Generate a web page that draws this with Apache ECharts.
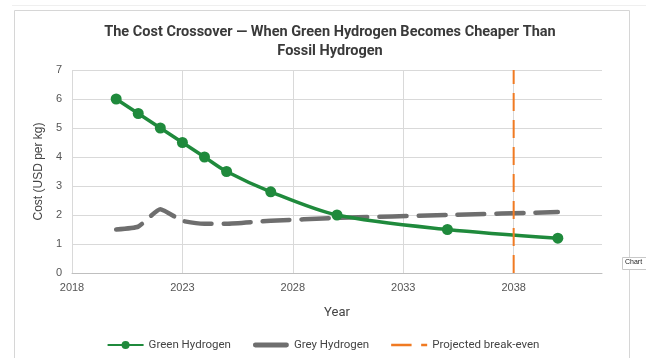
<html>
<head>
    <meta charset="utf-8">
    <title>ECharts</title>
    <script src="https://cdn.jsdelivr.net/npm/echarts@6/dist/echarts.min.js"></script>
    <style>
        body { margin: 0; background: #fff; }
    </style>
</head>
<body>
    <div id="main" style="width: 646px;height:358px;"></div>
    <script type="text/javascript">
        // data
        var greenYears = [2020, 2021, 2022, 2023, 2024, 2025, 2027, 2030, 2035, 2040];
        var greenCost  = [6.0, 5.5, 5.0, 4.5, 4.0, 3.5, 2.8, 2.0, 1.5, 1.2];
        var greyYears  = [2020, 2021, 2022, 2023, 2024, 2025, 2027, 2030, 2035, 2040];
        var greyCost   = [1.5, 1.6, 2.2, 1.8, 1.7, 1.7, 1.8, 1.9, 2.0, 2.1];
        var breakEvenYear = 2038;
        var breakEvenRange = [0, 7];

        function pairs(xs, ys) {
            var out = [];
            for (var i = 0; i < xs.length; i++) {
                out.push([xs[i], ys[i]]);
            }
            return out;
        }

        var labelFont = 'Liberation Sans, Arial, sans-serif';
        var titleFont = 'Roboto, sans-serif';

        var myChart = echarts.init(document.getElementById('main'));
        var option = {
            animation: false,
            title: {
                text: 'The Cost Crossover \u2014 When Green Hydrogen Becomes Cheaper Than\nFossil Hydrogen',
                left: 325,
                top: 18,
                textAlign: 'center',
                textStyle: {
                    fontFamily: titleFont,
                    fontSize: 14.5,
                    fontWeight: 'bold',
                    color: '#3a3a3a',
                    lineHeight: 19
                }
            },
            legend: {
                data: [
                    { name: 'Green Hydrogen' },
                    { name: 'Grey Hydrogen', icon: 'path://M2,0 H34 A2,2 0 0 1 34,5 H2 A2,2 0 0 1 2,0 Z' },
                    { name: 'Projected break-even', icon: 'path://M0,0 H17 V2 H0 Z M25,0 H30 V2 H25 Z' }
                ],
                left: 'center',
                top: 334,
                itemWidth: 36,
                itemHeight: 10,
                itemGap: 22,
                textStyle: { fontFamily: titleFont, fontSize: 11.5, color: '#444' }
            },
            grid: { left: 72, right: 44, top: 70, bottom: 85 },
            xAxis: {
                type: 'value',
                min: 2018,
                max: 2042,
                interval: 5,
                name: 'Year',
                nameLocation: 'middle',
                nameGap: 33,
                nameTextStyle: { fontFamily: titleFont, fontSize: 13, color: '#444' },
                axisLine: { show: true, lineStyle: { color: '#bfbfbf' } },
                axisTick: { show: false },
                axisLabel: {
                    showMaxLabel: false, fontFamily: labelFont, fontSize: 11, color: '#555', margin: 9,
                    formatter: function (v) { return String(v); }
                },
                splitLine: { show: true, showMaxLine: false, lineStyle: { color: '#d9d9d9' } }
            },
            yAxis: {
                type: 'value',
                min: 0,
                max: 7,
                interval: 1,
                name: 'Cost (USD per kg)',
                nameLocation: 'middle',
                nameGap: 24,
                nameTextStyle: { fontFamily: labelFont, fontSize: 12, color: '#444' },
                axisLine: { show: false },
                axisTick: { show: false },
                axisLabel: { fontFamily: labelFont, fontSize: 11, color: '#555', margin: 10 },
                splitLine: { lineStyle: { color: '#d9d9d9' } }
            },
            series: [
                {
                    name: 'Green Hydrogen',
                    type: 'line',
                    data: pairs(greenYears, greenCost),
                    smooth: 0.3,
                    symbol: 'circle',
                    symbolSize: 11,
                    itemStyle: { color: '#1f8a3c' },
                    lineStyle: { color: '#1f8a3c', width: 3.5 },
                    z: 3
                },
                {
                    name: 'Grey Hydrogen',
                    type: 'line',
                    data: pairs(greyYears, greyCost),
                    smooth: 0.15,
                    symbol: 'none',
                    itemStyle: { color: '#6e6e6e' },
                    lineStyle: { color: '#6e6e6e', width: 4.5, type: [27, 12], cap: 'round' },
                    z: 2
                },
                {
                    name: 'Projected break-even',
                    type: 'line',
                    data: [[breakEvenYear, breakEvenRange[0]], [breakEvenYear, breakEvenRange[1]]],
                    symbol: 'none',
                    itemStyle: { color: '#f07a22' },
                    lineStyle: { color: '#f07a22', width: 2, type: [18, 9] },
                    z: 4
                }
            ],
            graphic: [
                // outer chart frame
                { type: 'rect', shape: { x: 14.5, y: 10.5, width: 615, height: 360 },
                  style: { fill: null, stroke: '#d6d6d6', lineWidth: 1 }, silent: true },
                { type: 'line', shape: { x1: 12, y1: 5.5, x2: 646, y2: 5.5 },
                  style: { stroke: '#efefef', lineWidth: 1 }, silent: true },
                // little hover tag at right
                { type: 'rect', shape: { x: 622.5, y: 257.5, width: 30, height: 12 },
                  style: { fill: '#fff', stroke: '#c8c8c8', lineWidth: 1 }, silent: true },
                { type: 'text', x: 625, y: 259,
                  style: { text: 'Chart', fontSize: 7, fontFamily: labelFont, fill: '#222' }, silent: true }
            ]
        };
        myChart.setOption(option);
    </script>
</body>
</html>
